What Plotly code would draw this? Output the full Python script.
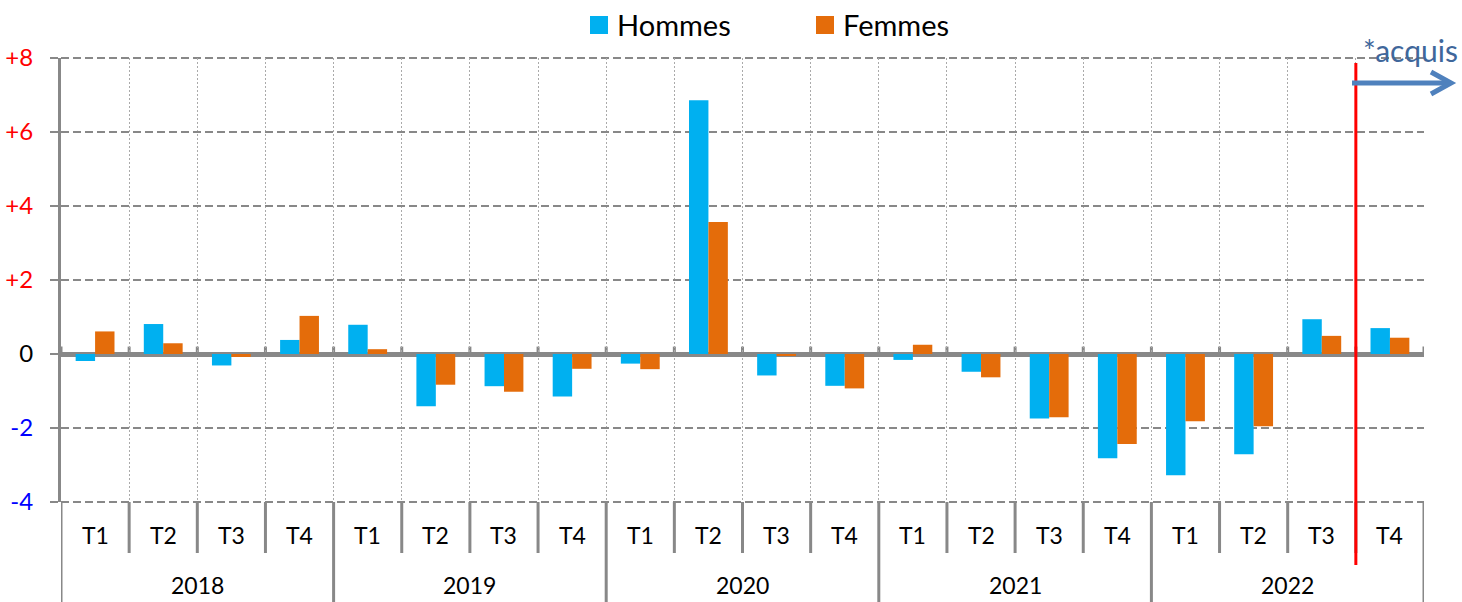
"""Evolution trimestrielle hommes / femmes, 2018-2022, avec acquis au T4 2022."""

import plotly.graph_objects as go

years = ["2018"] * 4 + ["2019"] * 4 + ["2020"] * 4 + ["2021"] * 4 + ["2022"] * 4
quarters = ["T1", "T2", "T3", "T4"] * 5
hommes = [-0.19, 0.81, -0.31, 0.38,
          0.79, -1.41, -0.87, -1.15,
          -0.26, 6.86, -0.58, -0.86,
          -0.16, -0.48, -1.74, -2.82,
          -3.28, -2.71, 0.94, 0.70]
femmes = [0.61, 0.29, -0.08, 1.03,
          0.13, -0.83, -1.02, -0.40,
          -0.41, 3.57, -0.05, -0.93,
          0.25, -0.63, -1.71, -2.43,
          -1.82, -1.95, 0.49, 0.44]
y_ticks = [-4, -2, 0, 2, 4, 6, 8]
acquis_from = 19  # index of the first "acquis" quarter

FONT = "Lato, 'Liberation Sans', sans-serif"
GREY = "#888888"
BLUE = "#00B0F0"
ORANGE = "#E46C0A"
GRID_DASH = "8px,4px"

# plot area in pixels: x 61..1424, y 58..502
LEFT, RIGHT, TOP, BOTTOM, W, H = 61, 1424, 58, 502, 1462, 602
PLOT_W, PLOT_H = RIGHT - LEFT, BOTTOM - TOP


def px_x(x):
    return (x - LEFT) / PLOT_W


def px_y(y):
    return (BOTTOM - y) / PLOT_H


def tick_label(v):
    if v > 0:
        return f"<span style='color:#FF0000'>+{v}</span>"
    if v < 0:
        return f"<span style='color:#0000FF'>{v}</span>"
    return "<span style='color:#000000'>0</span>"


xs = list(range(len(quarters)))
bounds = [i - 0.5 for i in range(len(quarters) + 1)]

fig = go.Figure()
fig.add_trace(go.Bar(x=xs, y=hommes, name="Hommes", marker_color=BLUE,
                     marker_line_width=0, showlegend=False))
fig.add_trace(go.Bar(x=xs, y=femmes, name="Femmes", marker_color=ORANGE,
                     marker_line_width=0, showlegend=False))

shapes = []
annotations = []

# legend drawn by hand so the swatches can be as large as in the original
for name, color, left in (("Hommes", BLUE, 590), ("Femmes", ORANGE, 816)):
    shapes.append(dict(type="rect", xref="paper", yref="paper",
                       x0=px_x(left), x1=px_x(left + 18), y0=px_y(34), y1=px_y(16),
                       fillcolor=color, line=dict(width=0)))
    annotations.append(dict(x=px_x(left + 25), xref="paper", y=px_y(25), yref="paper",
                            text=name, showarrow=False, xanchor="left",
                            yanchor="middle", font=dict(size=29, color="#000000")))

# plotly drops grid lines sitting on the plot edges, so draw the top/bottom ones
for edge in (0, 1):
    shapes.append(dict(type="line", xref="paper", yref="paper", x0=0, x1=1,
                       y0=edge, y1=edge, layer="below",
                       line=dict(color=GREY, width=2, dash=GRID_DASH)))

# small stubs above the zero line at each category boundary
for b in bounds:
    shapes.append(dict(type="line", xref="x", yref="y", x0=b, x1=b, y0=0, y1=0.2,
                       line=dict(color=GREY, width=3), layer="below"))
# category dividers below the plot
for k, b in enumerate(bounds):
    long_div = k % 4 == 0
    shapes.append(dict(type="line", xref="x", yref="paper", x0=b, x1=b,
                       y0=0, y1=px_y(H) if long_div else px_y(553),
                       line=dict(color=GREY, width=3)))
# red separator before the "acquis" quarter
shapes.append(dict(type="line", xref="x", yref="paper",
                   x0=acquis_from - 0.5, x1=acquis_from - 0.5,
                   y0=px_y(565), y1=px_y(63), line=dict(color="#FF0000", width=3)))
# arrow shaft and open head
shapes.append(dict(type="line", xref="paper", yref="paper",
                   x0=px_x(1352), x1=px_x(1450), y0=px_y(83), y1=px_y(83),
                   line=dict(color="#4F81BD", width=5)))
shapes.append(dict(type="path", xref="paper", yref="paper",
                   path=(f"M {px_x(1431)} {px_y(72)} L {px_x(1451)} {px_y(83)} "
                         f"L {px_x(1431)} {px_y(94)}"),
                   line=dict(color="#4F81BD", width=5)))

for i, q in enumerate(quarters):
    annotations.append(dict(x=i, xref="x", y=px_y(535), yref="paper", text=q,
                            showarrow=False, xanchor="center", yanchor="middle",
                            font=dict(size=23, color="#000000")))
for yr in dict.fromkeys(years):
    idx = [i for i, y in enumerate(years) if y == yr]
    annotations.append(dict(x=sum(idx) / len(idx), xref="x", y=px_y(585), yref="paper",
                            text=yr, showarrow=False, xanchor="center", yanchor="middle",
                            font=dict(size=23, color="#000000")))
annotations.append(dict(x=px_x(1410), xref="paper", y=px_y(50), yref="paper",
                        text="*acquis", showarrow=False, xanchor="center",
                        yanchor="middle", font=dict(size=30, color="#3F679B")))

fig.update_layout(
    width=W,
    height=H,
    margin=dict(l=LEFT, r=W - RIGHT, t=TOP, b=H - BOTTOM, pad=0, autoexpand=False),
    plot_bgcolor="white",
    paper_bgcolor="white",
    font=dict(family=FONT, color="#000000"),
    barmode="group",
    bargap=0.43,
    bargroupgap=0,
    showlegend=False,
    xaxis=dict(range=[-0.5, len(quarters) - 0.5], tickmode="array", tickvals=bounds,
               showticklabels=False, ticks="", showgrid=True, gridcolor="#AAAAAA",
               gridwidth=1, griddash="2px,2px", zeroline=False, showline=False,
               fixedrange=True, automargin=False),
    yaxis=dict(range=[y_ticks[0], y_ticks[-1]], tickmode="array", tickvals=y_ticks,
               ticktext=[tick_label(v) for v in y_ticks], tickfont=dict(size=24),
               ticks="outside", ticklen=8, tickwidth=2, tickcolor=GREY,
               ticklabelstandoff=12, automargin=False,
               showgrid=True, gridcolor=GREY, gridwidth=2, griddash=GRID_DASH,
               zeroline=True, zerolinecolor=GREY, zerolinewidth=5,
               showline=True, linecolor=GREY, linewidth=3, fixedrange=True),
    shapes=shapes,
    annotations=annotations,
)

# the page body has an 8px default margin; remove it so the figure fills the window
fig.write_html("out.html", config={"displayModeBar": False},
               post_script="document.body.style.margin = '0';")
